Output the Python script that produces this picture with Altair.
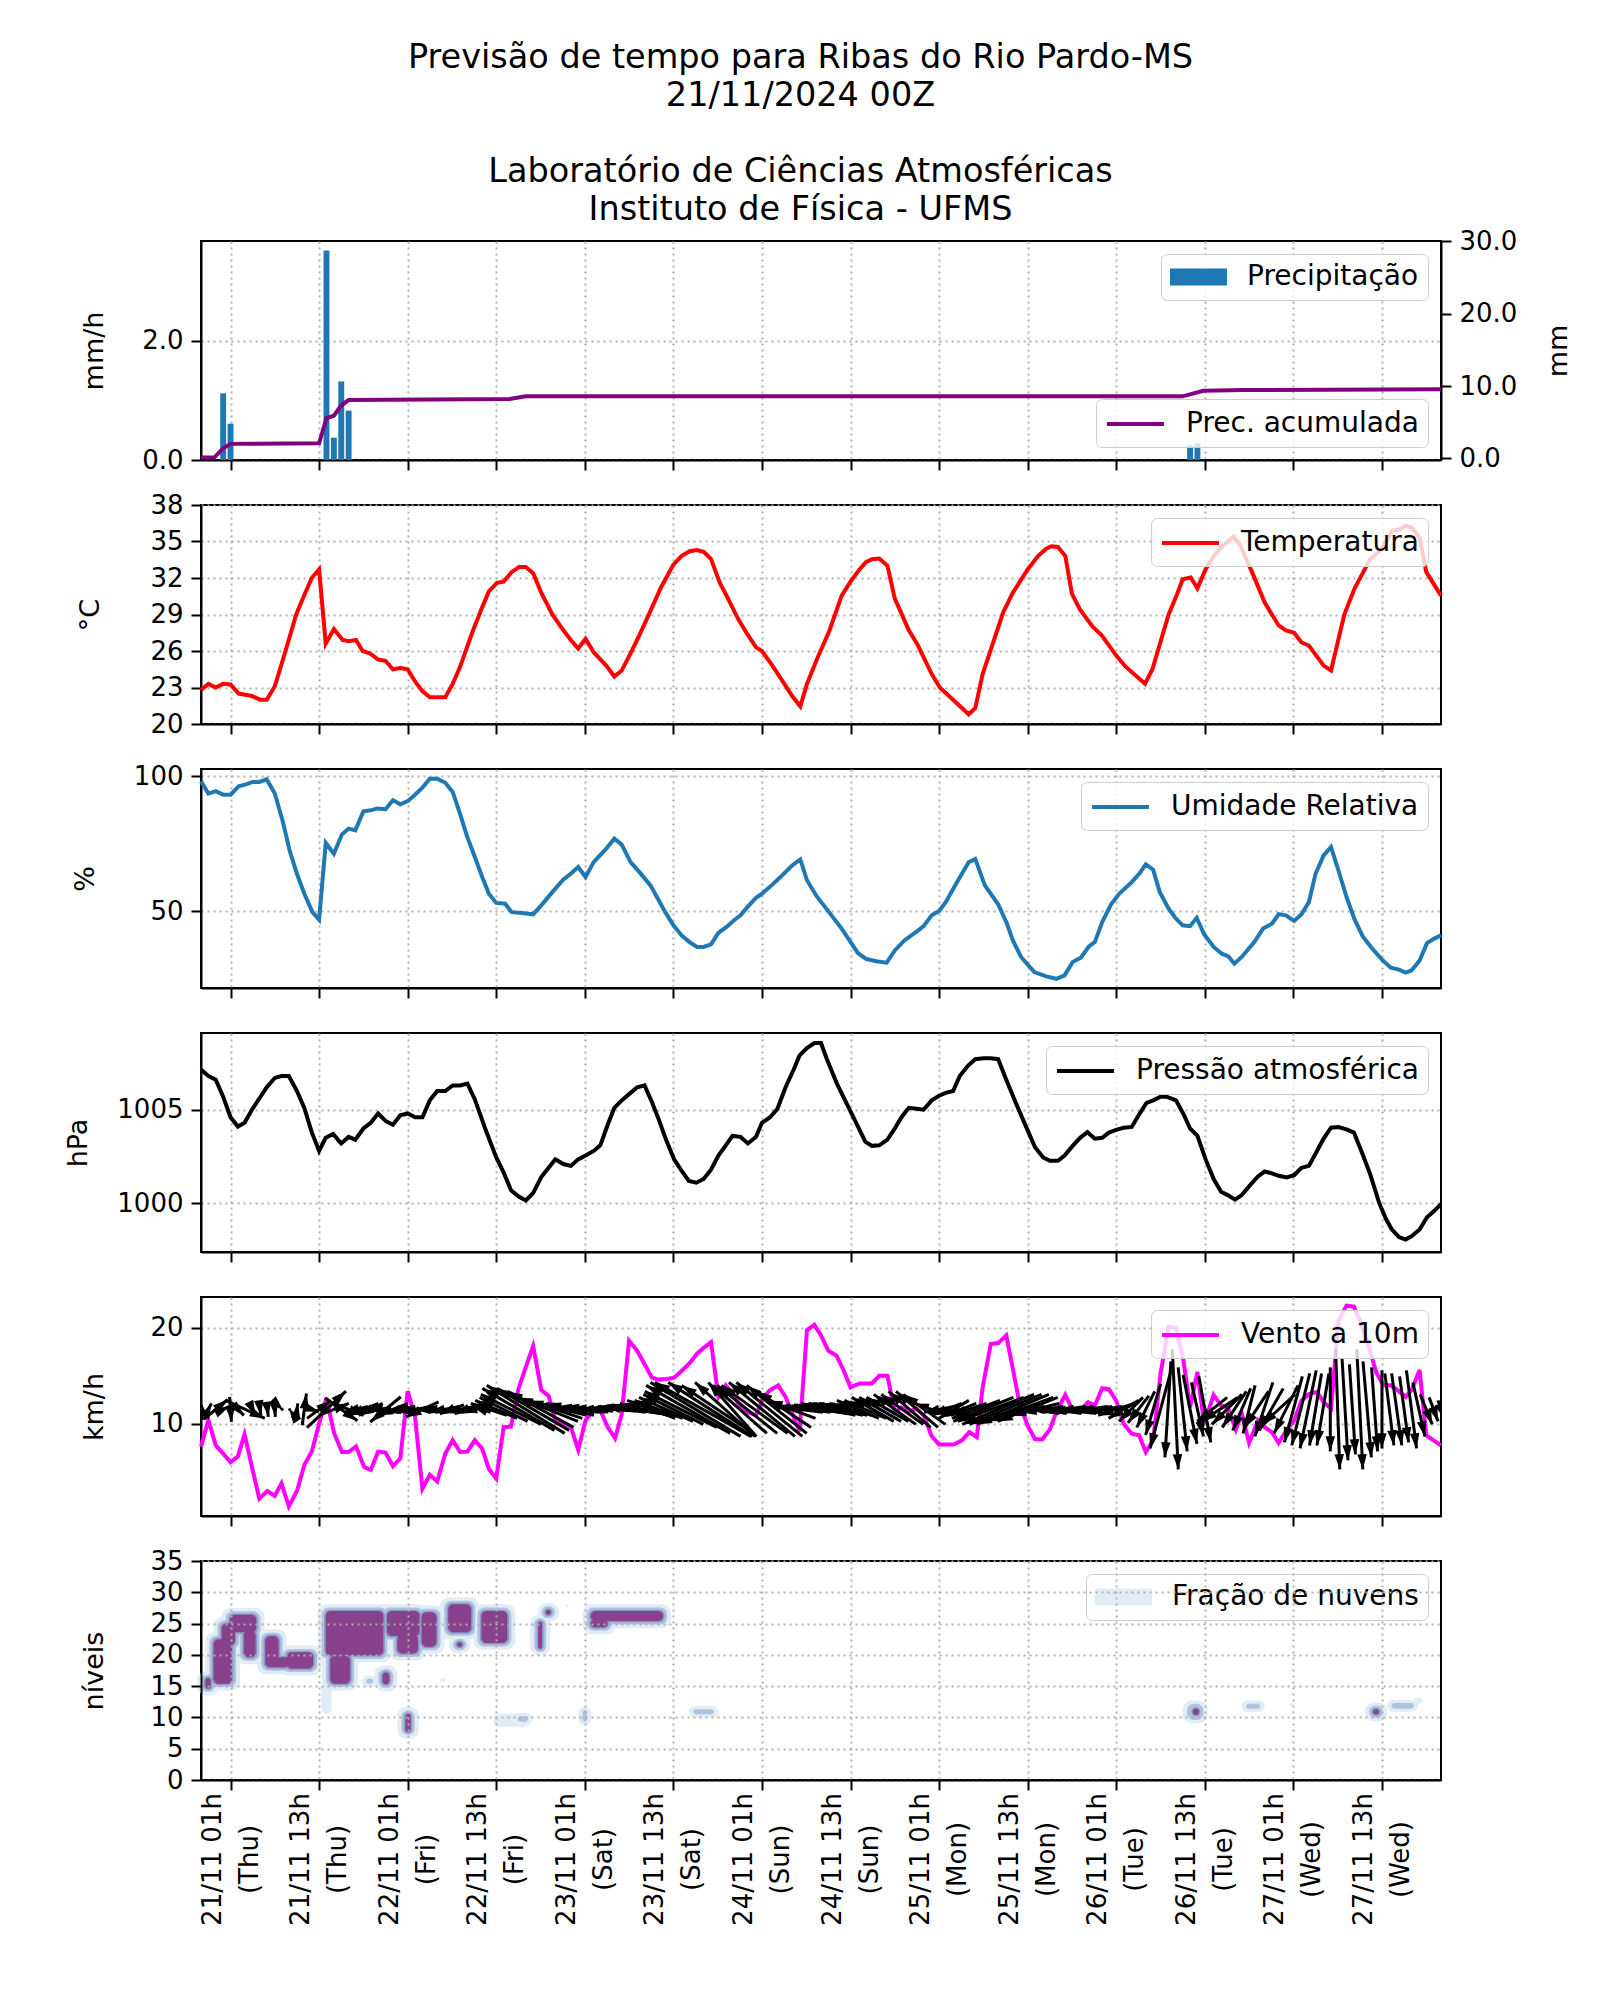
import json
import math
import altair as alt
import pandas as pd

FONT = "DejaVu Sans"

TITLE_LINES = ["Previsão de tempo para Ribas do Rio Pardo-MS", "21/11/2024 00Z"]
SUBTITLE_LINES = ["Laboratório de Ciências Atmosféricas", "Instituto de Física - UFMS"]

# hours relative to 21/11 00h (local)
TICK_HOURS = [1, 13, 25, 37, 49, 61, 73, 85, 97, 109, 121, 133, 145, 157]
TICK_DATES = ["21/11 01h", "21/11 13h", "22/11 01h", "22/11 13h", "23/11 01h", "23/11 13h",
              "24/11 01h", "24/11 13h", "25/11 01h", "25/11 13h", "26/11 01h", "26/11 13h",
              "27/11 01h", "27/11 13h"]
TICK_DAYS = ["(Thu)", "(Thu)", "(Fri)", "(Fri)", "(Sat)", "(Sat)", "(Sun)", "(Sun)",
             "(Mon)", "(Mon)", "(Tue)", "(Tue)", "(Wed)", "(Wed)"]

PREC_HOURS = [0, 1, 14, 15, 16, 17, 131, 132]
PREC_RATE = [1.12, 0.61, 3.52, 0.375, 1.32, 0.83, 0.25, 0.28]

ACC_HOURS = [-3, -1.2, 0, 1, 13, 14, 15, 16, 17, 38.8, 41, 130, 132.8, 138.3, 165]
ACC_MM = [0.1, 0.1, 1.4, 2.0, 2.07, 5.58, 5.9, 7.3, 8.06, 8.2, 8.57, 8.57, 9.35, 9.45, 9.54]

TEMP = [(-3, 22.8), (-2, 23.3), (-1, 23.0), (0, 23.3), (1, 23.25), (2.1, 22.5), (3.9, 22.3), (5, 22.0),
        (5.9, 22.0), (7, 23.1), (8.4, 25.9), (9.9, 29.0), (11, 30.6), (12, 32.0), (13, 32.7), (13.9, 26.6),
        (15, 27.8), (16.2, 26.9), (17, 26.8), (18, 26.9), (18.9, 26.0), (19.9, 25.8), (21, 25.3), (22, 25.2),
        (23, 24.5), (24, 24.6), (25, 24.5), (26, 23.5), (27, 22.7), (28, 22.2), (30.1, 22.2), (31.1, 23.3),
        (32.1, 24.7), (33.8, 27.6), (35.1, 29.6), (36, 30.9), (37.1, 31.6), (38, 31.7), (39.1, 32.5),
        (40.1, 32.9), (41, 32.9), (42, 32.4), (43.1, 30.8), (44.6, 29.0), (46.1, 27.7), (47.1, 26.9),
        (48.1, 26.2), (49.1, 27.0), (50.2, 25.9), (51.9, 24.8), (53, 23.9), (54, 24.4), (55.2, 25.8),
        (56.4, 27.3), (57.9, 29.3), (59.3, 31.2), (61, 33.1), (62.1, 33.8), (63.2, 34.2), (64.2, 34.3),
        (65.1, 34.15), (66.1, 33.55), (67.3, 31.6), (68.2, 30.55), (69.8, 28.6), (71, 27.4), (72.2, 26.3),
        (73, 26.0), (74.3, 24.9), (75.7, 23.6), (77.1, 22.3), (78.2, 21.45), (79.1, 23.3), (80.5, 25.4),
        (82.1, 27.6), (83.8, 30.55), (85, 31.7), (86.2, 32.7), (87.1, 33.3), (87.9, 33.55), (88.9, 33.6),
        (90, 33.0), (91, 30.3), (92.9, 27.7), (94.1, 26.5), (96, 24.1), (97.1, 23.0), (101, 20.8),
        (101.9, 21.3), (102.9, 24.1), (105.7, 29.2), (107, 30.8), (109, 32.7), (110.4, 33.8), (111.5, 34.4),
        (112.2, 34.6), (113.1, 34.55), (114.1, 33.8), (115, 30.7), (116.1, 29.4), (117.8, 28.0), (119, 27.3),
        (120.9, 25.7), (122.2, 24.75), (124.9, 23.3), (125.9, 24.5), (128.1, 29.0), (129.2, 30.6),
        (130, 31.9), (131.1, 32.05), (132, 31.15), (133.1, 32.7), (134.2, 33.8), (135.3, 34.6), (136.9, 35.4),
        (137.8, 34.7), (139.7, 32.05), (141.1, 30.0), (143, 28.1), (144, 27.7), (145.1, 27.5), (146.1, 26.7),
        (147.1, 26.45), (149.1, 24.8), (150.1, 24.4), (151.9, 29.0), (153.3, 31.15), (155.4, 33.55),
        (157, 34.4), (158.4, 35.9), (159.4, 36.0), (160.2, 36.3), (161, 36.15), (162.1, 35.3), (163, 32.5),
        (165, 30.55)]

RH = [(-3, 98.1), (-2, 93.5), (-1, 94.4), (0, 93.1), (1, 93.1), (2.1, 96.2), (3.1, 96.9), (4, 97.8),
      (4.9, 97.8), (5.9, 98.8), (7, 93.5), (8.1, 83.0), (9, 72.5), (10, 63.8), (11, 56.4), (12.1, 49.6),
      (13, 46.8), (13.9, 75.2), (15, 71.2), (16.1, 78.4), (17, 80.5), (17.9, 79.9), (19, 86.9), (20, 87.3),
      (20.9, 88.0), (22, 87.7), (23, 91.0), (24, 89.5), (25, 90.7), (26, 93.1), (27, 95.7), (28, 99.0),
      (29, 99.0), (30.1, 97.5), (31.1, 94.1), (32.1, 86.0), (33, 78.0), (34.1, 70.0), (35.1, 62.6),
      (36, 56.4), (37, 53.0), (38.2, 52.7), (39.1, 49.6), (40.5, 49.3), (42, 48.8), (43.1, 52.1),
      (44.6, 57.0), (46.1, 61.7), (47.1, 63.8), (48.1, 66.3), (49.1, 62.6), (50.2, 68.1), (51.9, 73.1),
      (53, 76.8), (54, 74.6), (55.2, 68.1), (56.4, 64.4), (57.9, 59.5), (59.9, 49.6), (61, 44.7),
      (62.2, 40.7), (63.2, 38.5), (64.2, 36.7), (65.1, 36.7), (66.1, 37.7), (67.1, 41.9), (68.2, 44.1),
      (69.3, 46.8), (70.1, 48.4), (71.2, 52.0), (72.2, 54.9), (73, 56.4), (74.3, 59.5), (75.4, 62.3),
      (77.1, 66.9), (78.2, 69.1), (79.1, 61.4), (80.4, 55.5), (81.4, 52.0), (83.8, 43.5), (86, 34.4),
      (87.1, 32.3), (88.5, 31.4), (89.9, 30.9), (91, 35.4), (92.3, 39.1), (94, 42.5), (94.9, 44.4),
      (96, 48.4), (97, 50.0), (97.9, 53.3), (99.3, 60.1), (101, 68.1), (101.9, 69.3), (103.2, 59.5),
      (105, 52.5), (106.2, 45.3), (107, 39.1), (108.1, 33.0), (109.9, 27.4), (111.5, 25.8), (112.9, 24.9),
      (114, 26.2), (115.1, 31.1), (116.2, 32.7), (117.3, 36.9), (118.1, 38.5), (119.1, 45.9), (120.3, 52.5),
      (121.4, 56.4), (123.1, 60.7), (124.2, 64.1), (125, 67.3), (126, 65.3), (126.9, 57.0), (128.1, 50.9),
      (129, 47.5), (130, 44.7), (131, 44.4), (131.9, 47.5), (132.9, 41.4), (134.2, 36.7), (135.3, 34.2),
      (136.2, 33.2), (137, 30.5), (138, 33.0), (139.7, 38.5), (140.9, 43.5), (142.1, 45.3), (143, 48.8),
      (144, 48.4), (145.1, 46.3), (146.1, 48.8), (147.1, 53.3), (148, 63.8), (149.1, 70.6), (150.1, 73.7),
      (151.1, 65.1), (152.2, 55.2), (153.3, 46.8), (154.4, 40.6), (155.5, 36.7), (157, 32.0), (158.2, 29.0),
      (159.3, 28.3), (160.2, 27.2), (161, 28.0), (162.1, 31.7), (163.1, 38.1), (164.1, 39.8), (165, 41.0)]

PRES = [(-3, 1007.15), (-2, 1006.8), (-1, 1006.6), (0, 1005.7), (1, 1004.6), (2, 1004.1), (2.9, 1004.3),
        (3.9, 1005.0), (4.9, 1005.6), (5.9, 1006.2), (7, 1006.7), (7.9, 1006.8), (8.9, 1006.8), (10, 1006.0),
        (11, 1005.1), (12, 1003.8), (13, 1002.8), (13.9, 1003.5), (14.9, 1003.7), (16, 1003.2), (17, 1003.55),
        (17.9, 1003.4), (19, 1004.0), (20, 1004.3), (21, 1004.8), (22, 1004.4), (23, 1004.2), (24, 1004.7),
        (25, 1004.8), (26, 1004.6), (27, 1004.6), (28, 1005.5), (29, 1006.0), (30.1, 1006.0), (31.1, 1006.3),
        (32.1, 1006.3), (33.1, 1006.4), (34.1, 1005.55), (35.5, 1004.0), (37, 1002.45), (38, 1001.65),
        (39, 1000.7), (40.1, 1000.35), (41, 1000.15), (42, 1000.55), (43.1, 1001.4), (44.1, 1001.9),
        (45, 1002.35), (46.1, 1002.1), (47.1, 1002.0), (48.1, 1002.35), (49.1, 1002.55), (50.2, 1002.8),
        (51.1, 1003.1), (52.1, 1004.2), (53, 1005.1), (54, 1005.5), (55.2, 1005.9), (56.1, 1006.2),
        (57.1, 1006.3), (58.1, 1005.4), (59, 1004.5), (60.1, 1003.3), (61.1, 1002.35), (62.1, 1001.75),
        (63.1, 1001.2), (64.1, 1001.1), (65.1, 1001.3), (66.1, 1001.8), (67.1, 1002.55), (68.1, 1003.1),
        (69, 1003.6), (70.1, 1003.55), (71.1, 1003.2), (72.2, 1003.55), (73, 1004.3), (74.1, 1004.6),
        (75.1, 1005.05), (76.2, 1006.2), (77.3, 1007.15), (78.1, 1007.9), (79.1, 1008.3), (80.1, 1008.56),
        (81, 1008.56), (81.8, 1007.7), (83.2, 1006.35), (85.2, 1004.75), (87, 1003.3), (87.9, 1003.07),
        (88.9, 1003.1), (90, 1003.4), (91, 1004.0), (91.9, 1004.6), (92.9, 1005.1), (93.9, 1005.05),
        (94.9, 1005.0), (96, 1005.5), (97, 1005.75), (97.9, 1005.9), (98.9, 1006.0), (99.8, 1006.8),
        (100.9, 1007.35), (101.9, 1007.7), (103, 1007.75), (104, 1007.75), (105, 1007.7), (106.1, 1006.6),
        (107.3, 1005.45), (109, 1003.9), (110, 1003.0), (111.1, 1002.45), (112, 1002.27), (113.1, 1002.27),
        (114, 1002.55), (115.1, 1003.07), (116.1, 1003.5), (117.1, 1003.8), (118.1, 1003.45), (119.1, 1003.5),
        (120, 1003.78), (121.2, 1003.95), (122, 1004.04), (123.1, 1004.08), (124.1, 1004.75), (125.1, 1005.37),
        (126, 1005.5), (127, 1005.7), (127.8, 1005.7), (129.1, 1005.5), (130.2, 1004.7), (131, 1004.0),
        (132, 1003.6), (133.1, 1002.36), (134.2, 1001.3), (135.2, 1000.62), (136.1, 1000.44), (137.1, 1000.2),
        (138, 1000.44), (139.2, 1001.0), (140.2, 1001.44), (141.1, 1001.7), (142.1, 1001.6), (143, 1001.47),
        (144.1, 1001.38), (145.1, 1001.5), (146.1, 1001.9), (147.1, 1002.0), (148.2, 1002.8), (149.1, 1003.46),
        (150.1, 1004.04), (151.1, 1004.08), (152.2, 1003.95), (153.2, 1003.78), (154.3, 1002.7),
        (155.4, 1001.56), (156.6, 1000.05), (157.5, 999.2), (158.3, 998.63), (159.3, 998.2), (160.2, 998.07),
        (161, 998.24), (162.1, 998.6), (163.1, 999.26), (164.1, 999.6), (165, 999.96)]

WIND = [(-3, 7.6), (-2, 10.4), (-1, 7.75), (0, 6.9), (1, 6.0), (2, 6.6), (2.9, 8.9), (3.9, 5.5), (4.9, 2.2),
        (6, 3.0), (7, 2.5), (7.9, 3.8), (8.9, 1.4), (10, 3.0), (11, 5.7), (12, 7.1), (13, 10.0), (14, 12.7),
        (15, 9.1), (16.1, 7.06), (17, 7.06), (18, 7.65), (19.1, 5.5), (20, 5.2), (21, 7.1), (22, 7.0),
        (23, 5.6), (24, 6.4), (25, 13.4), (26, 10.7), (27, 3.25), (28, 4.7), (29, 4.0), (30.1, 6.9),
        (31.1, 8.3), (32.1, 7.06), (33.1, 7.1), (34.1, 8.3), (35.1, 7.4), (36, 5.3), (37, 4.3), (38, 9.65),
        (39, 9.7), (40, 13.6), (41, 15.9), (42, 18.1), (43.1, 13.5), (44.1, 12.9), (45.1, 10.07), (46.1, 10.07),
        (47.1, 9.7), (48.1, 7.3), (49.1, 10.35), (50.2, 11.4), (51, 11.56), (52.1, 9.65), (53.1, 8.5),
        (54, 11.0), (55, 18.65), (56.1, 17.6), (57.1, 16.2), (58.1, 14.8), (59, 14.6), (60.1, 14.67),
        (61.1, 14.8), (62.1, 15.5), (63.2, 16.3), (64.2, 17.3), (65.1, 17.9), (66.1, 18.5), (67.1, 12.8),
        (68.1, 14.0), (69.2, 13.0), (70.1, 11.7), (71.1, 11.2), (72.2, 10.9), (73.2, 12.8), (74.1, 13.5),
        (75.2, 14.0), (76.2, 12.8), (77.2, 10.9), (78.1, 9.2), (79.1, 19.76), (80.1, 20.3), (81, 19.2),
        (82, 17.6), (83.1, 17.1), (84.1, 15.5), (85, 13.8), (86.2, 14.2), (87.9, 14.2), (88.9, 15.0),
        (90, 15.0), (91, 11.2), (91.9, 11.7), (92.9, 11.2), (93.9, 11.6), (94.9, 10.9), (96, 8.7), (97, 7.85),
        (99, 7.85), (100.1, 8.27), (101.1, 9.13), (102.1, 8.6), (102.9, 13.8), (104, 18.3), (105, 18.4),
        (106.1, 19.2), (107, 15.7), (107.9, 12.1), (109, 9.8), (110, 8.4), (111, 8.4), (112, 9.4),
        (113, 11.45), (114.1, 13.0), (115.1, 11.4), (116.1, 11.4), (117.2, 12.25), (118.1, 11.9), (119.1, 13.7),
        (120, 13.6), (121, 12.4), (122, 10.0), (123.1, 8.96), (124.1, 8.8), (125, 7.06), (126, 8.27),
        (127, 15.2), (128.1, 20.1), (129.1, 20.0), (130.1, 16.6), (131, 11.7), (132, 15.4), (132.9, 10.0),
        (134.2, 13.0), (135.2, 11.9), (136.1, 11.7), (137.2, 9.4), (138, 11.1), (139, 8.0), (140.2, 10.35),
        (141.1, 9.65), (142.1, 9.13), (143, 8.0), (144.1, 9.4), (145.1, 10.35), (146.1, 12.4), (147.1, 13.1),
        (148.2, 13.3), (149.1, 12.25), (150.1, 11.6), (151.1, 20.7), (152.2, 22.3), (153.2, 22.2),
        (154.1, 20.55), (155.2, 18.1), (156.2, 15.4), (157.2, 14.0), (158.2, 14.0), (159.1, 13.5),
        (160.2, 12.8), (161, 13.5), (162.1, 15.6), (163, 8.8), (165, 7.75)]

# hourly wind vectors (u east, v north), hours -3 .. 165
ARROW_HOURS = list(range(-3, 166))
ARROW_U = [-0.5, 1, 4, 2, 0.3, 2, 6.5, 1, 0.3, 0.3, 0.2, 0.3, -0.2, 0.3, 0.7, 2.4, 4, 6.5, 5, 5.4,   # -3..16
           5, -4, -5, -4, -3.4, -5.1, -5, -5, -5, -6, -5.4, -5, -5, -5, -4, -5, -4, -4, -3,          # 17..35
           -6, -7, -8, -10, -12, -13, -12, -11, -10, -9, -8, -8, -7, -7, -7, -7, -7, -7, -8, -8,      # 36..55
           -8, -8, -8, -8, -9, -10, -12, -14, -15, -16, -14, -12, -10, -8, -9, -10, -11, -11, -11, -10,  # 56..75
           -9, -8, -8, -8, -9, -9, -9, -9, -8, -7, -7, -7, -7, -7, -7, -7, -7, -7, -7, -7,           # 76..95
           -6, -5, -5, -5, -5, -6, -8, -10, -11, -12, -12, -12, -11, -10, -8, -7, -7, -7, -7, -7,     # 96..115
           -7, -7, -6, -7, -7, -6, -5, -4, -3.5, -3, -2.5, -3.5, -1, 1, 1.5, 2.3, 2, 2, -5, -6,     # 116..135
           -5, -4, -3, -2, -4, -3, -4, -5.5, -4, -3, -3, -2.7, -2, -2, 0, 0.7, 1, 1, 1, 1.4,         # 136..155
           1, 0, 1.5, 1.7, 1.5, 1.7, 2, 2, 1.5, 1]                                                  # 156..165
ARROW_V = [3.5, 2, 3.3, 1, -4.2, -2, -3, -2, -2, -2.5, -2.5, -0.3, 0.3, 2, 5.3, -0.8, 3, 6.1, 2, -3.8,
           -2, -1, -2, -2, -0.5, -4.2, -2, -1, 0, -1, -2.5, 0, 0, -1, -1.5, -1, -1.5, -1, 1,
           2, 3, 4, 5, 7, 8, 7, 6, 4, 3, 2, 2, 1, 1, 0.5, 0, 0, 0.5, 1, 1,
           1.5, 2, 3, 3, 4, 5, 6, 8, 9, 9, 9, 8, 9, 9, 8, 8, 8, 9, 9, 8,
           6, 3, 1, 1, 1, 1.5, 2, 2, 2, 2, 3, 3, 4, 4, 4, 5, 5, 6, 6, 5,
           2, -1, -2, -3, -2, -2, -3, -4, -4, -5, -5, -5, -4, -4, -2, -1, 0, 0, -1, -1,
           0, -1, -1, -1, -1, -2, -3, -4, -4.5, -6, -8.5, -13, -16, -20, -14, -11.5, -9, -11, -4, -4,
           -5, -6, -7, -8, -6, -9, -7, -5, -8, -11, -12, -13, -12, -12, -14, -20, -17, -15, -20, -16,
           -14, -13, -12, -12, -11, -13, -9, -5, -4, -3]

# cloud fraction patches: time span (h), level span, intensity class (3 = dense, 2 = moderate, 1 = thin)
CLOUD_T0 = [-1.3, 0.9, 2.8, 5.7, 8.6, -2.4, 13.9, 14.5, 22.2, 23.6, 26.9, 30.5, 31.7, 35.0, 42.7, 43.7, 49.8,
            49.8, 21.6, 24.7, 131.4, 155.8, -0.2, 6.5,
            39.9, 48.7, 63.7, 19.4, 130.6, 138.6, 158.3,
            36.6, 13.3, 29.4, 46.4, 144.5, 161.3]
CLOUD_T1 = [1.2, 4.5, 4.4, 7.5, 12.2, -1.7, 21.7, 17.2, 26.6, 26.4, 28.9, 33.6, 32.4, 38.5, 43.2, 44.4, 59.6,
            52.1, 22.5, 25.4, 132.2, 156.6, 1.6, 9.0,
            41.3, 49.3, 66.5, 20.3, 132.8, 140.5, 161.3,
            41.6, 14.7, 30.2, 46.8, 145.0, 162.5]
CLOUD_L0 = [15.4, 23.6, 19.6, 18.0, 17.8, 14.6, 19.9, 15.4, 23.0, 20.2, 21.3, 23.6, 21.3, 21.9, 21.0, 26.4, 25.4,
            24.4, 15.3, 7.7, 10.4, 10.5, 21.5, 18.0,
            9.3, 9.3, 10.5, 15.4, 9.6, 11.4, 11.4,
            8.5, 10.6, 15.7, 27.6, 11.8, 12.2]
CLOUD_L1 = [22.5, 26.4, 23.9, 23.0, 20.4, 16.3, 27.0, 19.9, 27.0, 23.3, 26.8, 28.1, 22.0, 27.0, 25.3, 27.2, 27.0,
            25.6, 17.2, 10.6, 11.4, 11.3, 25.0, 19.6,
            10.2, 11.2, 11.3, 16.2, 12.2, 12.2, 12.3,
            10.6, 15.4, 16.2, 28.0, 12.3, 13.2]
CLOUD_KIND = [3] * 24 + [2] * 7 + [1] * 6

# ---------------------------------------------------------------- layout / style
W, H = 1240, 219
XDOM = [-3, 165]
PREC_DOM = [0, 3.68]
ACC_DOM = [-0.23, 30.05]
TEMP_DOM = [20, 38]
RH_DOM = [21.5, 102.6]
PRES_DOM = [997.4, 1009.1]
WIND_DOM = [0.4, 23.2]
LEV_DOM = [0, 35]

LINE_SYM = "M-1,0H3.07"
RECT_SYM = "M-1,-0.6H3.07V0.6H-1Z"


def leg(orient, sym, sw):
    return alt.Legend(title=None, orient=orient, offset=13, padding=9,
                      fillColor="rgba(255,255,255,0.8)", strokeColor="#cccccc", cornerRadius=6,
                      labelFont=FONT, labelFontSize=28, labelColor="black", labelLimit=600,
                      symbolType=sym, symbolSize=784, symbolStrokeWidth=sw, labelOffset=49)


def xenc(field="h", labels=False):
    kw = dict(values=TICK_HOURS, title=None, grid=True, labels=labels)
    if labels:
        h = json.dumps(TICK_HOURS)
        kw.update(
            labelExpr=(f"[{json.dumps(TICK_DATES)}[indexof({h}, datum.value)], "
                       f"{json.dumps(TICK_DAYS)}[indexof({h}, datum.value)]]"),
            labelAngle=270, labelAlign="center", labelBaseline="middle",
            labelPadding=69, labelLineHeight=37, labelOffset=-18.5,
            labelOverlap=False, labelFlush=False, zindex=1)
    return alt.X(f"{field}:Q", scale=alt.Scale(domain=XDOM, nice=False, zero=False), axis=alt.Axis(**kw))


def yenc(field, dom, vals, title, title_x, fmt=None, orient="left", grid=True, z=0):
    kw = dict(values=vals, title=title, grid=grid, orient=orient, titleX=title_x, titleY=H / 2,
              titleBaseline="middle", titleAlign="center", titleAngle=270, zindex=z)
    if fmt:
        kw["format"] = fmt
    return alt.Y(f"{field}:Q", scale=alt.Scale(domain=dom, nice=False, zero=False), axis=alt.Axis(**kw))


def cenc(label, color, orient, sym, sw):
    return alt.Color("lab:N", scale=alt.Scale(domain=[label], range=[color]), legend=leg(orient, sym, sw))


# ---------------------------------------------------------------- panel 1 : precipitation
prec_df = pd.DataFrame({"h": PREC_HOURS, "r": PREC_RATE})
prec_df["x0"] = prec_df["h"] - 0.4
prec_df["x1"] = prec_df["h"] + 0.4
prec_df["base"] = 0.0
prec_df["lab"] = "Precipitação"
acc_df = pd.DataFrame({"h": ACC_HOURS, "v": ACC_MM, "lab": "Prec. acumulada"})

bars = alt.Chart(prec_df).mark_rect().encode(
    x=xenc("x0"), x2="x1",
    y=yenc("r", PREC_DOM, [0, 2], "mm/h", -107, fmt=".1f"), y2="base",
    color=cenc("Precipitação", "#1f77b4", "top-right", RECT_SYM, 0))
acc = alt.Chart(acc_df).mark_line(strokeWidth=4).encode(
    x=xenc("h"),
    y=yenc("v", ACC_DOM, [0, 10, 20, 30], "mm", 117, fmt=".1f", orient="right", grid=False),
    color=cenc("Prec. acumulada", "#800080", "bottom-right", LINE_SYM, 4))
p1 = alt.layer(bars, acc).resolve_scale(y="independent", color="independent").resolve_legend(
    color="independent").properties(width=W, height=H)


def line_panel(data, label, color, dom, vals, title, tx, fmt=None):
    df = pd.DataFrame(data, columns=["h", "v"])
    df["lab"] = label
    return alt.Chart(df).mark_line(strokeWidth=4).encode(
        x=xenc("h"), y=yenc("v", dom, vals, title, tx, fmt=fmt),
        color=cenc(label, color, "top-right", LINE_SYM, 4))


p2 = line_panel(TEMP, "Temperatura", "#ff0000", TEMP_DOM, [20, 23, 26, 29, 32, 35, 38], "°C", -111).properties(
    width=W, height=H)
p3 = line_panel(RH, "Umidade Relativa", "#1f77b4", RH_DOM, [50, 100], "%", -116, fmt="d").properties(
    width=W, height=H)
p4 = line_panel(PRES, "Pressão atmosférica", "#000000", PRES_DOM, [1000, 1005], "hPa", -123, fmt="d").properties(
    width=W, height=H)

# ---------------------------------------------------------------- panel 5 : wind
ARROW_PX = 6.0           # arrow length in px per km/h
ARROW_Y = 11.5           # vertical anchor of arrows (pivot middle)
px_h = W / (XDOM[1] - XDOM[0])
px_k = H / (WIND_DOM[1] - WIND_DOM[0])
arr = pd.DataFrame({"h": ARROW_HOURS, "u": ARROW_U, "v": ARROW_V})
arr["x0"] = arr["h"] - arr["u"] * ARROW_PX / 2 / px_h
arr["x1"] = arr["h"] + arr["u"] * ARROW_PX / 2 / px_h
arr["y0"] = ARROW_Y - arr["v"] * ARROW_PX / 2 / px_k
arr["y1"] = ARROW_Y + arr["v"] * ARROW_PX / 2 / px_k
arr["ang"] = [(math.degrees(math.atan2(u, v)) + 360) % 360 for u, v in zip(arr["u"], arr["v"])]

wind_line = line_panel(WIND, "Vento a 10m", "#ff00ff", WIND_DOM, [10, 20], "km/h", -107)
shafts = alt.Chart(arr).mark_rule(strokeWidth=3, color="black", clip=True).encode(
    x=xenc("x0"), x2="x1", y=yenc("y0", WIND_DOM, [10, 20], "km/h", -107), y2="y1")
heads = alt.Chart(arr).mark_point(shape="M0,0L0.5,1.6L-0.5,1.6Z", size=360, filled=True, color="black",
                                  opacity=1, strokeWidth=0, clip=True).encode(
    x=xenc("x1"), y=yenc("y1", WIND_DOM, [10, 20], "km/h", -107), angle=alt.Angle("ang:Q", scale=None))
p5 = alt.layer(wind_line, shafts, heads).properties(width=W, height=H)

# ---------------------------------------------------------------- panel 6 : clouds
cl = pd.DataFrame({"t0": CLOUD_T0, "t1": CLOUD_T1, "l0": CLOUD_L0, "l1": CLOUD_L1, "k": CLOUD_KIND})


def grow(df, eh, el):
    d = df.copy()
    d["x0"] = d["t0"] - d["k"].map(eh)
    d["x1"] = d["t1"] + d["k"].map(eh)
    d["y0"] = d["l0"] - d["k"].map(el)
    d["y1"] = d["l1"] + d["k"].map(el)
    d["lab"] = "Fração de nuvens"
    return d


light = grow(cl, {3: 1.1, 2: 0.6, 1: 0.0}, {3: 1.1, 2: 0.5, 1: 0.0})
mid = grow(cl[cl.k >= 2], {3: 0.55, 2: 0.0}, {3: 0.55, 2: 0.0})
ring = grow(cl[cl.k == 3], {3: 0.22}, {3: 0.22})
core = grow(cl[cl.k == 3], {3: 0.0}, {3: 0.0})

LEV_VALS = [0, 5, 10, 15, 20, 25, 30, 35]


def cloud_layer(df, **mk):
    return alt.Chart(df).mark_rect(**mk).encode(
        x=xenc("x0", labels=True), x2="x1", y=yenc("y0", LEV_DOM, LEV_VALS, "níveis", -107, z=1), y2="y1")


c_light = cloud_layer(light, cornerRadius=9).encode(
    color=cenc("Fração de nuvens", "#e2ecf5", "top-right", RECT_SYM, 0))
c_mid = cloud_layer(mid, color="#aec3de", cornerRadius=7)
c_ring = cloud_layer(ring, color="#8c96c6", cornerRadius=6)
c_core = cloud_layer(core, color="#88418c", cornerRadius=5)
p6 = alt.layer(c_light, c_mid, c_ring, c_core).properties(width=W, height=H)

chart = alt.vconcat(p1, p2, p3, p4, p5, p6, spacing=45, bounds="flush").resolve_scale(
    color="independent", x="independent", y="independent").resolve_legend(color="independent").properties(
    title=alt.TitleParams(TITLE_LINES, subtitle=SUBTITLE_LINES, fontSize=33.5, font=FONT, fontWeight="normal",
                          lineHeight=38, subtitleFontSize=33.5, subtitleFont=FONT, subtitleColor="black",
                          subtitleLineHeight=38, subtitlePadding=42, anchor="middle", offset=0, dx=-17,
                          color="black"),
    padding={"left": 55, "top": 33, "right": 5, "bottom": 5},
).configure(font=FONT, background="white").configure_view(stroke="black", strokeWidth=2).configure_axis(
    gridColor="#b0b0b0", gridDash=[2, 4], gridWidth=2, gridOpacity=1,
    tickColor="black", tickWidth=2, tickSize=10, labelPadding=8,
    labelFont=FONT, labelFontSize=26, labelColor="black",
    titleFont=FONT, titleFontSize=27, titleFontWeight="normal", titleColor="black",
    domainColor="black", domainWidth=2,
)

chart.save("out.html", embed_options={"renderer": "svg", "actions": False})
